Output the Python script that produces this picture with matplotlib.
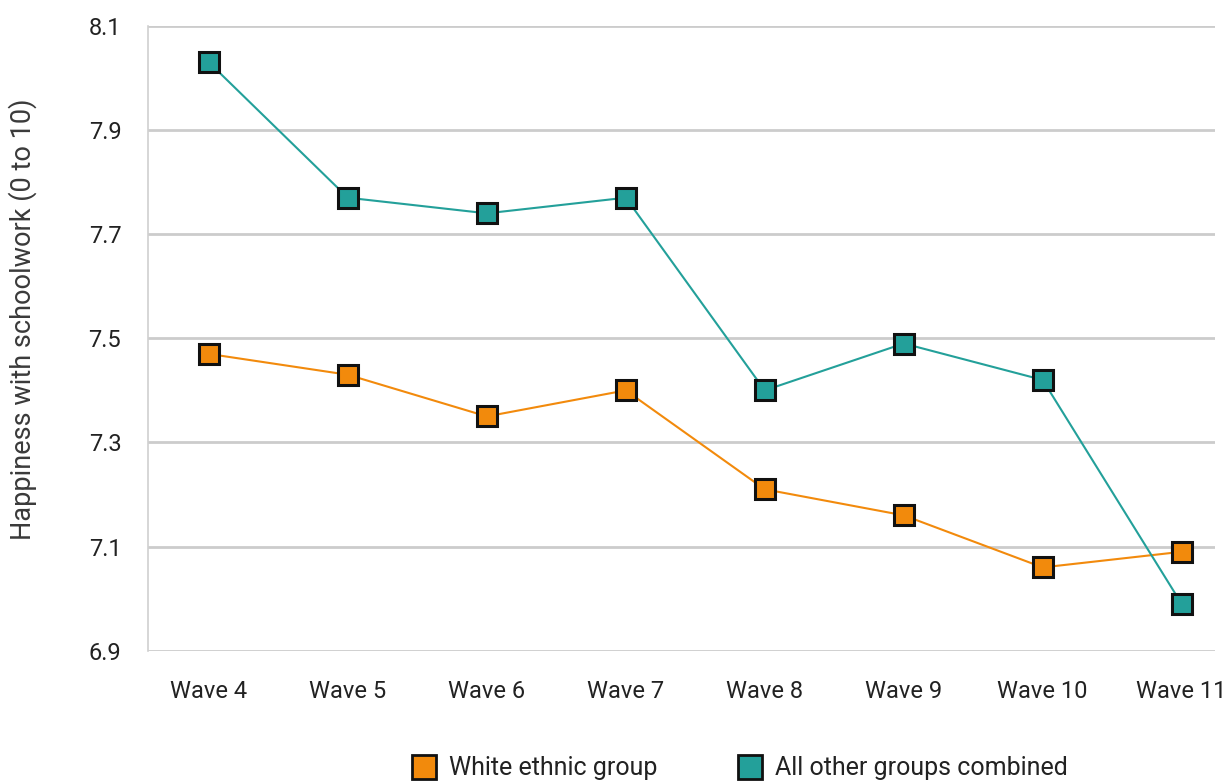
import matplotlib.pyplot as plt
from matplotlib.lines import Line2D

# Mean happiness with schoolwork by survey wave
waves = ["Wave 4", "Wave 5", "Wave 6", "Wave 7", "Wave 8", "Wave 9", "Wave 10", "Wave 11"]
white = [7.47, 7.43, 7.35, 7.40, 7.21, 7.16, 7.06, 7.09]
other = [8.03, 7.77, 7.74, 7.77, 7.40, 7.49, 7.42, 6.99]

ORANGE = "#f28a0c"
TEAL = "#23a09a"

plt.rcParams["font.family"] = ["Roboto", "DejaVu Sans"]

fig = plt.figure(figsize=(12.31, 7.84), dpi=100)
ax = fig.add_axes([0.120, 0.170, 0.867, 0.797])

x = list(range(len(waves)))
ax.plot(x, white, color=ORANGE, lw=1.5, zorder=3)
ax.plot(x, other, color=TEAL, lw=1.5, zorder=3)
ax.plot(x, white, ls="none", marker="s", ms=14, mfc=ORANGE, mec="#111111", mew=2.2, zorder=4)
ax.plot(x, other, ls="none", marker="s", ms=14, mfc=TEAL, mec="#111111", mew=2.2, zorder=4)

ax.set_xlim(-0.44, 7.24)
ax.set_ylim(6.9, 8.1)
ax.set_yticks([6.9, 7.1, 7.3, 7.5, 7.7, 7.9, 8.1])
ax.set_yticklabels(["6.9", "7.1", "7.3", "7.5", "7.7", "7.9", "8.1"])
ax.set_xticks(x)
ax.set_xticklabels(waves)
ax.tick_params(axis="both", length=0, labelsize=17, colors="#222222")
ax.tick_params(axis="x", pad=21)
ax.tick_params(axis="y", pad=19)

ax.grid(axis="y", color="#cccccc", lw=2)
ax.set_axisbelow(True)
for s in ["top", "right", "bottom"]:
    ax.spines[s].set_visible(False)
ax.spines["left"].set_color("#d0d0d0")
ax.spines["left"].set_linewidth(1.2)

ax.set_ylabel("Happiness with schoolwork (0 to 10)", fontsize=19.5, color="#3a3a3a")
ax.yaxis.set_label_coords(-0.104, 0.53)

handles = [
    Line2D([], [], ls="none", marker="s", ms=17, mfc=ORANGE, mec="#111111", mew=2),
    Line2D([], [], ls="none", marker="s", ms=17, mfc=TEAL, mec="#111111", mew=2),
]
fig.legend(handles, ["White ethnic group", "All other groups combined"],
           loc="center", bbox_to_anchor=(0.601, 0.02), ncol=2, frameon=False,
           fontsize=18, handlelength=1.0, handletextpad=0.5, columnspacing=3.2,
           labelcolor="#222222")

fig.savefig("out.png", dpi=100)
